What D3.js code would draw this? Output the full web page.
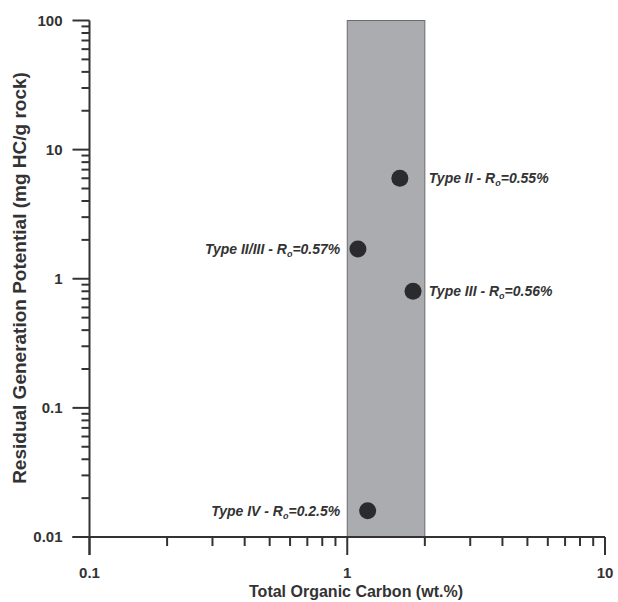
<!DOCTYPE html>
<html>
<head>
<meta charset="utf-8">
<script src="https://cdn.jsdelivr.net/npm/d3@7"></script>
<style>
  html, body { margin: 0; padding: 0; background: #fff; }
  svg { display: block; font-family: "Liberation Sans", Arial, sans-serif; }
</style>
</head>
<body>
<svg id="chart" width="618" height="602"></svg>
<script>
// Sample kerogen types: TOC (wt.%) vs residual generation potential (S2)
const types = ["II", "II/III", "III", "IV"];
const roValues = ["0.55%", "0.57%", "0.56%", "0.2.5%"];
const tocValues = [1.6, 1.1, 1.8, 1.2];
const s2Values = [6, 1.7, 0.8, 0.016];
const labelSide = ["right", "left", "right", "left"];

// Shaded TOC range
const tocBand = [1, 2];

// Axis tick labels
const xTickLabels = [0.1, 1, 10];
const yTickLabels = [100, 10, 1, 0.1, 0.01];

const ink = "#333333";
const svg = d3.select("#chart");

const x = d3.scaleLog().domain([0.1, 10]).range([89.5, 605]);
const y = d3.scaleLog().domain([0.01, 100]).range([537, 20.5]);

// Shaded band
svg.append("rect")
  .attr("x", x(tocBand[0]))
  .attr("y", y(100))
  .attr("width", x(tocBand[1]) - x(tocBand[0]))
  .attr("height", y(0.01) - y(100))
  .attr("fill", "#aaacaf")
  .attr("stroke", "#6b6b6e")
  .attr("stroke-width", 1);

// Log ticks: majors at decades, minors at 2..9
function logTicks(lo, hi) {
  const out = [];
  for (let e = Math.log10(lo); e <= Math.log10(hi); e++) {
    const base = Math.pow(10, e);
    out.push({ v: base, major: true });
    if (e < Math.log10(hi)) {
      for (let m = 2; m <= 9; m++) out.push({ v: m * base, major: false });
    }
  }
  return out;
}

// X axis
const xAxisG = svg.append("g").attr("transform", `translate(0,${y(0.01)})`);
xAxisG.append("line")
  .attr("x1", x(0.1) - 17).attr("x2", x(10))
  .attr("stroke", ink).attr("stroke-width", 2);
xAxisG.selectAll("line.tick").data(logTicks(0.1, 10)).join("line")
  .attr("class", "tick")
  .attr("x1", d => x(d.v)).attr("x2", d => x(d.v))
  .attr("y1", 0).attr("y2", d => d.major ? 18 : 9)
  .attr("stroke", ink).attr("stroke-width", 2);
xAxisG.selectAll("text").data(xTickLabels).join("text")
  .attr("x", d => x(d)).attr("y", 41)
  .attr("text-anchor", "middle")
  .attr("font-size", 15).attr("font-weight", "bold").attr("fill", ink)
  .text(d => d);

// Y axis
const yAxisG = svg.append("g").attr("transform", `translate(${x(0.1)},0)`);
yAxisG.append("line")
  .attr("y1", y(100)).attr("y2", y(0.01) + 18)
  .attr("stroke", ink).attr("stroke-width", 2);
yAxisG.selectAll("line.tick").data(logTicks(0.01, 100)).join("line")
  .attr("class", "tick")
  .attr("y1", d => y(d.v)).attr("y2", d => y(d.v))
  .attr("x1", 0).attr("x2", d => d.major ? -17 : -8)
  .attr("stroke", ink).attr("stroke-width", 2);
yAxisG.selectAll("text").data(yTickLabels).join("text")
  .attr("x", -27).attr("y", d => y(d))
  .attr("dy", "0.36em")
  .attr("text-anchor", "end")
  .attr("font-size", 15).attr("font-weight", "bold").attr("fill", ink)
  .text(d => d);

// Axis titles
svg.append("text")
  .attr("x", 356).attr("y", 597)
  .attr("text-anchor", "middle")
  .attr("font-size", 16).attr("font-weight", "bold").attr("fill", ink)
  .text("Total Organic Carbon (wt.%)");

svg.append("text")
  .attr("transform", `translate(26,${278}) rotate(-90)`)
  .attr("text-anchor", "middle")
  .attr("font-size", 19).attr("font-weight", "bold").attr("fill", ink)
  .text("Residual Generation Potential (mg HC/g rock)");

// Data points
const points = types.map((t, i) => ({
  type: t, ro: roValues[i], toc: tocValues[i], s2: s2Values[i], side: labelSide[i]
}));

svg.selectAll("circle.pt").data(points).join("circle")
  .attr("class", "pt")
  .attr("cx", d => x(d.toc)).attr("cy", d => y(d.s2))
  .attr("r", 8.5)
  .attr("fill", "#2b2b2e");

// Point labels sit just outside the shaded band: "Type X - R_o=..."
const labels = svg.selectAll("text.pl").data(points).join("text")
  .attr("class", "pl")
  .attr("x", d => d.side === "right" ? x(tocBand[1]) + 4 : x(tocBand[0]) - 7)
  .attr("y", d => y(d.s2) + 5)
  .attr("text-anchor", d => d.side === "right" ? "start" : "end")
  .attr("font-size", 14).attr("font-weight", "bold").attr("font-style", "italic")
  .attr("fill", ink);
labels.append("tspan").text(d => `Type ${d.type} - R`);
labels.append("tspan").attr("font-size", 9).attr("dy", 3).text("o");
labels.append("tspan").attr("dy", -3).text(d => `=${d.ro}`);
</script>
</body>
</html>
